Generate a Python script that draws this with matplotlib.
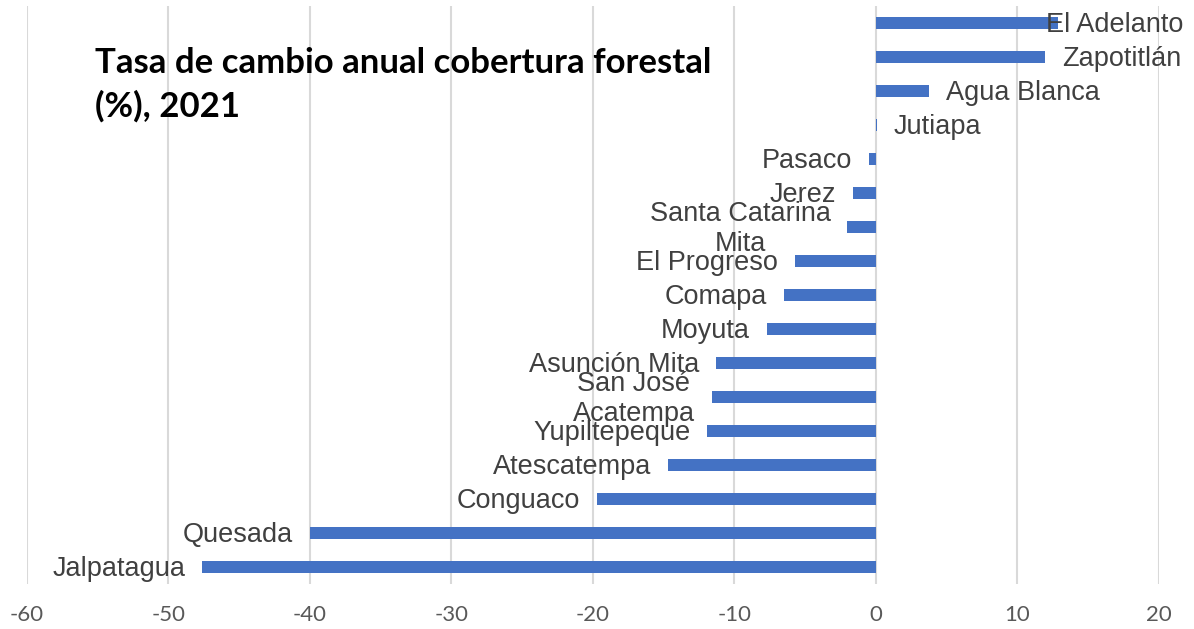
import matplotlib.pyplot as plt
import numpy as np

municipios = ['El Adelanto', 'Zapotitlán', 'Agua Blanca', 'Jutiapa', 'Pasaco', 'Jerez',
              'Santa Catarina\nMita', 'El Progreso', 'Comapa', 'Moyuta', 'Asunción Mita',
              'San José\nAcatempa', 'Yupiltepeque', 'Atescatempa', 'Conguaco', 'Quesada',
              'Jalpatagua']
tasa = [12.9, 12.0, 3.8, 0.1, -0.5, -1.6, -2.0, -5.7, -6.5, -7.7, -11.3, -11.6, -11.9,
        -14.7, -19.7, -40.0, -47.6]
xticks = [-60, -50, -40, -30, -20, -10, 0, 10, 20]

plt.rcParams['axes.unicode_minus'] = False

fig = plt.figure(figsize=(11.94, 6.29), dpi=100)
ax = fig.add_axes([0.0224, 0.0715, 0.948, 0.919])

y = np.arange(len(municipios))[::-1]
ax.barh(y, tasa, height=0.36, color='#4472C4', zorder=2)

ax.set_xlim(-60, 20)
ax.set_ylim(-0.5, len(municipios) - 0.5)
ax.set_xticks(xticks)
ax.set_yticks([])
ax.xaxis.grid(True, color='#d9d9d9', linewidth=1.5, zorder=0)
ax.tick_params(axis='x', length=0, pad=15, labelsize=16, labelcolor='#595959')
for lbl in ax.get_xticklabels():
    lbl.set_family('Lato')
for s in ax.spines.values():
    s.set_visible(False)

# etiquetas al final de cada barra; si se salen del lienzo se recorren hacia adentro
fig.canvas.draw()
renderer = fig.canvas.get_renderer()
for yi, name, v in zip(y, municipios, tasa):
    off = 12 if v >= 0 else -12
    t = ax.annotate(name, (v, yi), xytext=(off, -1.5), textcoords='offset points',
                    ha='left' if v >= 0 else 'right', va='center', ma='center',
                    fontsize=19.5, family='Liberation Sans', color='#404040',
                    linespacing=1.2, zorder=3)
    bb = t.get_window_extent(renderer)
    limit = fig.bbox.width - 11
    if bb.x1 > limit:
        t.set_position((off - (bb.x1 - limit) * 0.72, -1.5))

fig.text(0.0795, 0.926, 'Tasa de cambio anual cobertura forestal\n(%), 2021',
         fontsize=25, fontweight='bold', family='Lato', color='black',
         va='top', ha='left', linespacing=1.44)

fig.savefig('out.png', dpi=100)
